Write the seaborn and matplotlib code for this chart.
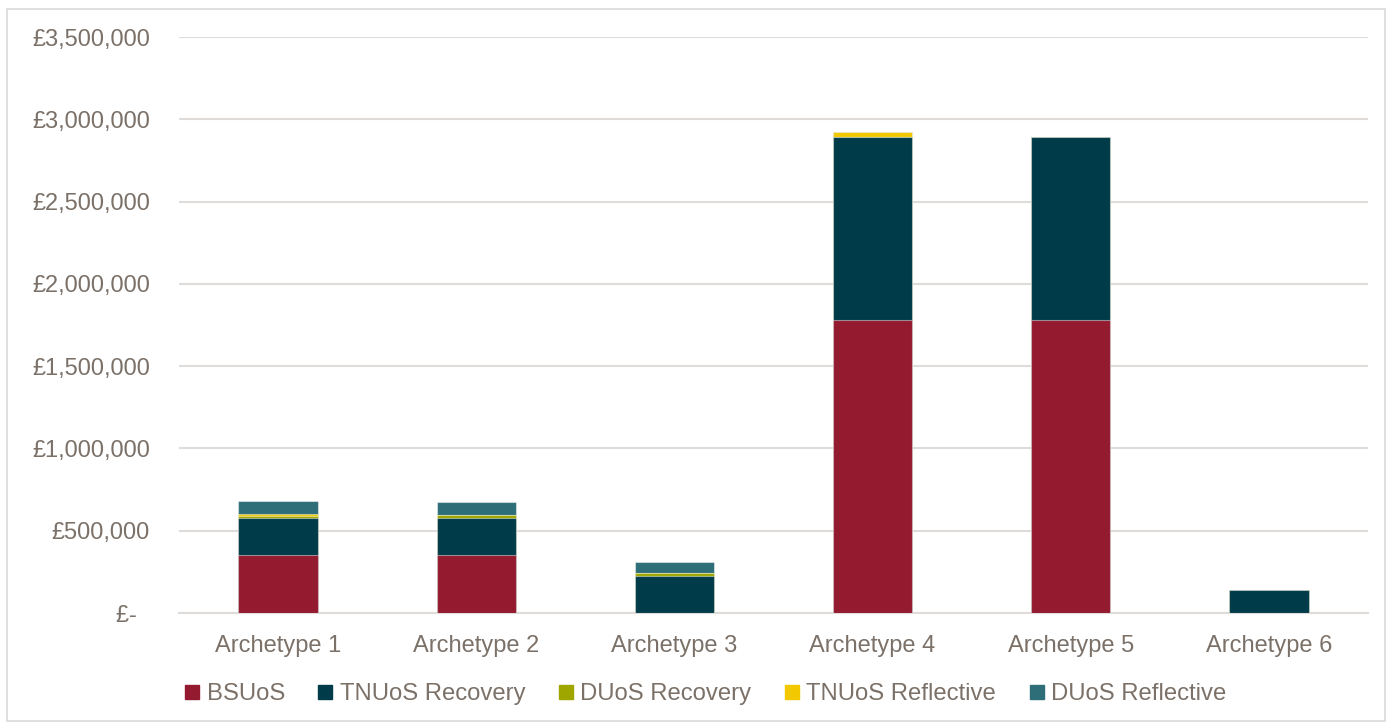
import matplotlib
matplotlib.use("Agg")
import matplotlib.pyplot as plt
import seaborn as sns
import pandas as pd
import numpy as np
from matplotlib.patches import Rectangle
from matplotlib.lines import Line2D

# Annual charges by archetype (GBP)
archetypes = ["Archetype 1", "Archetype 2", "Archetype 3", "Archetype 4", "Archetype 5", "Archetype 6"]
bsuos = [355000, 355000, 0, 1780000, 1780000, 0]
tnuos_recovery = [225000, 225000, 222000, 1110000, 1110000, 140000]
duos_recovery = [12000, 18000, 22000, 0, 0, 0]
tnuos_reflective = [8000, 0, 0, 33000, 0, 0]
duos_reflective = [80000, 75000, 68000, 0, 0, 0]

series_names = ["BSUoS", "TNUoS Recovery", "DUoS Recovery", "TNUoS Reflective", "DUoS Reflective"]
series_values = [bsuos, tnuos_recovery, duos_recovery, tnuos_reflective, duos_reflective]
colors = ["#941B2F", "#003B4A", "#9FA600", "#F2C900", "#2E6E78"]

y_ticks = [0, 500000, 1000000, 1500000, 2000000, 2500000, 3000000, 3500000]
y_tick_labels = ["£-  ", "£500,000", "£1,000,000", "£1,500,000", "£2,000,000",
                 "£2,500,000", "£3,000,000", "£3,500,000"]

text_color = "#7B7168"
grid_color = "#DEDBD8"

sns.set_theme(style="white")
plt.rcParams["font.family"] = ["Liberation Sans", "DejaVu Sans"]

fig = plt.figure(figsize=(13.92, 7.25), dpi=100)
ax = fig.add_axes([179 / 1392, 1 - 613 / 725, (1368 - 179) / 1392, (613 - 37) / 725])

# Stack by drawing cumulative totals from the top series down
cum = np.cumsum(np.array(series_values, dtype=float), axis=0)
for i in range(len(series_names) - 1, -1, -1):
    df = pd.DataFrame({"archetype": archetypes, "value": cum[i]})
    sns.barplot(data=df, x="archetype", y="value", color=colors[i], width=0.4,
                saturation=1, edgecolor=(1, 1, 1, 0.45), linewidth=0.8, ax=ax, zorder=3)

ax.set_ylim(0, 3500000)
ax.set_xlim(-0.5, len(archetypes) - 0.5)
ax.set_yticks(y_ticks)
ax.set_yticklabels(y_tick_labels)
ax.set_xlabel("")
ax.set_ylabel("")
ax.yaxis.grid(True, color=grid_color, linewidth=1.5, zorder=0)
ax.set_axisbelow(True)
for s in ["top", "right", "left"]:
    ax.spines[s].set_visible(False)
ax.spines["bottom"].set_color(grid_color)
ax.spines["bottom"].set_linewidth(1.5)
ax.tick_params(axis="y", length=0, pad=21, labelsize=17, labelcolor=text_color)
ax.tick_params(axis="x", length=0, pad=16, labelsize=17, labelcolor=text_color)

handles = [Line2D([0], [0], marker="s", linestyle="none", markersize=9.5,
                  markerfacecolor=c, markeredgecolor=c) for c in colors]
fig.legend(handles, series_names, loc="center", bbox_to_anchor=(0.507, 1 - 694 / 725),
           ncol=5, frameon=False, fontsize=17.2, labelcolor=text_color,
           handletextpad=0.3, columnspacing=1.4, handlelength=0.6)

# Light outer border around the chart area
fig.patches.append(Rectangle((7 / 1392, 4 / 725), 1378 / 1392, 712 / 725, transform=fig.transFigure,
                             fill=False, edgecolor="#D9D9D9", linewidth=1.2))

fig.savefig("out.png", dpi=100, facecolor="white")
